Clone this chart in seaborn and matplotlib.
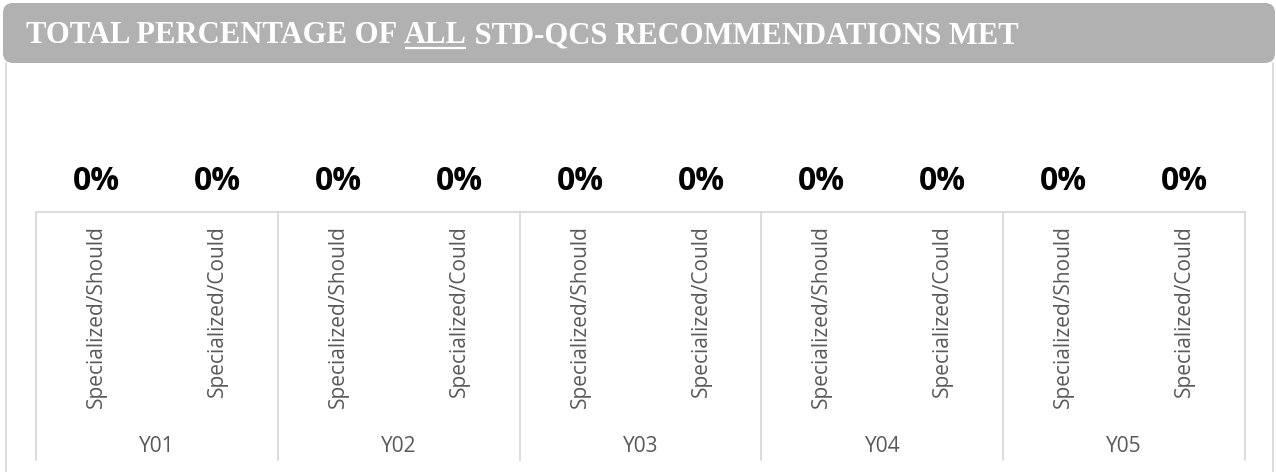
import matplotlib
matplotlib.use("Agg")
import matplotlib.pyplot as plt
import matplotlib.transforms as mtransforms
from matplotlib.patches import FancyBboxPatch
import seaborn as sns
import pandas as pd

# ---- data ----
groups = ["Y01", "Y02", "Y03", "Y04", "Y05"]
subcats = ["Specialized/Should", "Specialized/Could"]
values = [0.0, 0.0, 0.0, 0.0, 0.0, 0.0, 0.0, 0.0, 0.0, 0.0]
title_parts = ["TOTAL PERCENTAGE OF ", "ALL", " STD-QCS RECOMMENDATIONS MET"]

keys = [f"{g}|{s}" for g in groups for s in subcats]
df = pd.DataFrame({"key": keys, "value": values})

W, H = 1276, 472
sns.set_theme(style="white")
plt.rcParams["font.family"] = ["Open Sans", "DejaVu Sans"]

fig = plt.figure(figsize=(W / 100, H / 100), dpi=100)
fig.patch.set_facecolor("white")

# background axes in pixel coordinates
bg = fig.add_axes([0, 0, 1, 1], zorder=0)
bg.set_xlim(0, W)
bg.set_ylim(H, 0)
bg.axis("off")

border = "#D9D9D9"
banner = FancyBboxPatch((3, 3), W - 3 - 1, 60,
                        boxstyle="round,pad=0,rounding_size=10",
                        facecolor="#B1B1B1", edgecolor="none")
bg.add_patch(banner)
bg.plot([5.5, 5.5], [63, H], color=border, lw=1.3)
bg.plot([1273, 1273], [63, H], color=border, lw=1.3)

# title with underlined "ALL"
fig.canvas.draw()
renderer = fig.canvas.get_renderer()
x = 26
tfont = dict(family=["Liberation Serif"], fontsize=22.1, weight="bold", color="white")
for i, part in enumerate(title_parts):
    t = bg.text(x, 43, part, ha="left", va="baseline", **tfont)
    bb = t.get_window_extent(renderer)
    w = bb.width
    if i == 1:
        bg.plot([x + 1, x + w - 1], [47.5, 47.5], color="white", lw=1.6,
                solid_capstyle="butt")
    x += w

# main axes
left, right = 36 / W, 1245 / W
bottom, top = (H - 212) / H, (H - 80) / H
ax = fig.add_axes([left, bottom, right - left, top - bottom], zorder=1)
ax.patch.set_alpha(0)
sns.barplot(data=df, x="key", y="value", order=keys, color="#7F7F7F",
            width=0.6, ax=ax)
ax.set_ylim(0, 1)
ax.set_xlim(-0.5, len(keys) - 0.5)
ax.set_xlabel("")
ax.set_ylabel("")
ax.set_yticks([])
for s in ["top", "left", "right"]:
    ax.spines[s].set_visible(False)
ax.spines["bottom"].set_color(border)
ax.spines["bottom"].set_linewidth(1.3)

ax.bar_label(ax.containers[0], labels=[f"{v:.0%}" for v in values],
             padding=10, fontsize=23, fontweight="bold", color="black",
             family=["Open Sans", "DejaVu Sans"])

ax.set_xticks(range(len(keys)))
ax.set_xticklabels([k.split("|")[1] for k in keys], rotation=90,
                   fontsize=15, color="#595959")
ax.tick_params(axis="x", length=0, pad=9.5)

# group labels and separators
trans = mtransforms.blended_transform_factory(ax.transData, bg.transData)
for gi, g in enumerate(groups):
    ax.text(2 * gi + 0.5, 452, g, transform=trans, ha="center", va="baseline",
            fontsize=15, color="#595959", clip_on=False)
for b in range(len(groups) + 1):
    xb = 2 * b - 0.5
    ax.plot([xb, xb], [212, 460], transform=trans, color=border, lw=1.3,
            clip_on=False)

fig.savefig("out.png", dpi=100, facecolor="white")
